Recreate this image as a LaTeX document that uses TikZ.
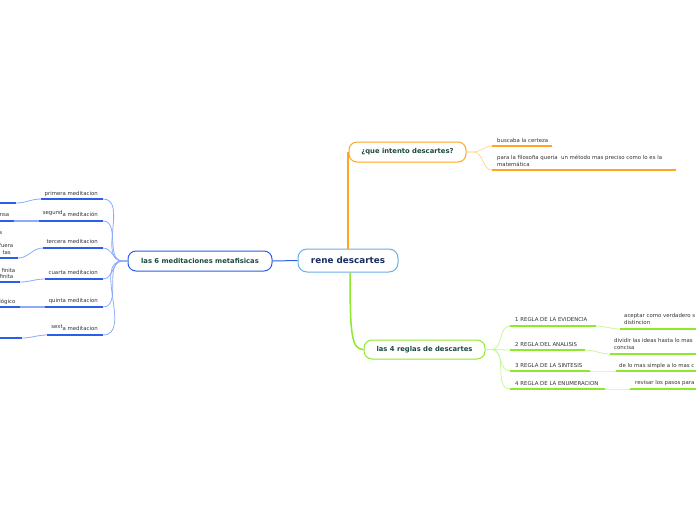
\documentclass[tikz,border=0pt]{standalone}
\usepackage{fontspec}
\setmainfont{DejaVu Sans}
\definecolor{blueM}{HTML}{2C5EE8}
\definecolor{blueL}{HTML}{8EABF8}
\definecolor{orM}{HTML}{FFA51F}
\definecolor{orL}{HTML}{FFD797}
\definecolor{grM}{HTML}{8EE82C}
\definecolor{grL}{HTML}{C9F69C}
\definecolor{ctrB}{HTML}{6CAEE6}
\definecolor{ctrT}{HTML}{1B2D5E}
\definecolor{topT}{HTML}{1D4A40}
\definecolor{txt}{HTML}{333333}
\begin{document}
\begin{tikzpicture}[x=1pt,y=-1pt,
  small/.style={font=\fontsize{5.4}{7}\selectfont, text=txt, inner sep=0pt},
  topic/.style={draw, rounded corners=8pt, fill=white, line width=1pt,
    font=\fontsize{6.8}{8}\bfseries\selectfont, text=topT, inner sep=0pt},
  uB/.style={blueM, line width=1.6pt},
  cB/.style={blueL, line width=0.8pt},
  uO/.style={orM, line width=1.6pt},
  cO/.style={orL, line width=0.8pt},
  uG/.style={grM, line width=1.6pt},
  cG/.style={grL, line width=0.8pt}]
\useasboundingbox (0,0) rectangle (696,520);

% main nodes
\node[topic, draw=ctrB, text=ctrT, font=\fontsize{8.8}{10}\bfseries\selectfont,
  minimum width=100pt, minimum height=23pt, rounded corners=9pt] (c) at (348,260.5) {rene descartes};
\node[topic, draw=orM, minimum width=117pt, minimum height=20pt] (q) at (407.5,152) {¿que intento descartes?};
\node[topic, draw=grM, minimum width=121pt, minimum height=19pt] (r) at (424.5,349.5) {las 4 reglas de descartes};
\node[topic, draw=blueM, minimum width=144pt, minimum height=20pt] (m) at (200,261) {las 6 meditaciones metafisicas};

% main connectors
\draw[orM, line width=1.5pt] (c.north) -- (c.north |- q.west);
\draw[grM, line width=1.5pt] ([xshift=2pt]c.south) .. controls +(0,62) and +(-12,0) .. (r.west);
\draw[blueM, line width=1pt] (m.east) -- (c.west);

% ---- que intento descartes
\coordinate (q1a) at (492,146); \coordinate (q1b) at (552,146);
\coordinate (q2a) at (492,170); \coordinate (q2b) at (676,170);
\draw[cO] (q.east) -- ++(7,0) to[out=0,in=180] (q1a);
\draw[cO] (q.east) -- ++(7,0) to[out=0,in=180] (q2a);
\draw[uO] (q1a) -- (q1b);
\draw[uO] (q2a) -- (q2b);
\node[small, anchor=base west] (q1t) at (497,142) {buscaba la certeza};
\node[small, anchor=north west, align=left] (q2t) at (497,155) {para la filosofia queria\ \ un método mas preciso como lo es la\\matemática};

% ---- 4 reglas
\coordinate (g1a) at (510,326); \coordinate (g1b) at (596,326);
\coordinate (g2a) at (510,350); \coordinate (g2b) at (585,350);
\coordinate (g3a) at (510,371); \coordinate (g3b) at (590,371);
\coordinate (g4a) at (510,389); \coordinate (g4b) at (605,389);
\coordinate (h1a) at (620,329); \coordinate (h1b) at (696,329);
\coordinate (h2a) at (610,354); \coordinate (h2b) at (696,354);
\coordinate (h3a) at (616,371); \coordinate (h3b) at (696,371);
\coordinate (h4a) at (630,389); \coordinate (h4b) at (696,389);
\foreach \i in {1,2,3,4}{
  \draw[cG] (r.east) -- ++(6,0) to[out=0,in=180] (g\i a);
  \draw[uG] (g\i a) -- (g\i b);
  \draw[cG] (g\i b) to[out=0,in=180] (h\i a);
  \draw[uG] (h\i a) -- (h\i b);
}
\node[small, anchor=base west] (g1t) at (515,321) {1 REGLA DE LA EVIDENCIA};
\node[small, anchor=base west] (g2t) at (515,346) {2 REGLA DEL ANALISIS};
\node[small, anchor=base west] (g3t) at (515,367) {3 REGLA DE LA SINTESIS};
\node[small, anchor=base west] (g4t) at (515,385) {4 REGLA DE LA ENUMERACION};
\node[small, anchor=north west, align=left] (h1t) at (624,313) {aceptar como verdadero s\\distincion};
\node[small, anchor=north west, align=left] (h2t) at (614,338) {dividir las ideas hasta lo mas\\concisa};
\node[small, anchor=base west] (h3t) at (619,367) {de lo mas simple a lo mas c};
\node[small, anchor=base west] (h4t) at (635,384.5) {revisar los pasos para};

% ---- 6 meditaciones
\coordinate (p1a) at (41,199);  \coordinate (p1b) at (103,199);
\coordinate (p2a) at (39,221);  \coordinate (p2b) at (103,221);
\coordinate (p3a) at (43,248);  \coordinate (p3b) at (103,248);
\coordinate (p4a) at (45,279);  \coordinate (p4b) at (103,279);
\coordinate (p5a) at (45,307);  \coordinate (p5b) at (103,307);
\coordinate (p6a) at (47,335);  \coordinate (p6b) at (103,335);
\foreach \i in {1,...,6}{
  \draw[cB] (m.west) -- ++(-5,0) to[out=180,in=0] (p\i b);
  \draw[uB] (p\i a) -- (p\i b);
}
\node[small, anchor=base east] (p1t) at (98,195) {primera meditacion};
\node[small, anchor=base east] (p2t) at (98,216.5) {\raisebox{1.6pt}{segund}a meditación};
\node[small, anchor=base east] (p3t) at (98,243.5) {tercera meditacion};
\node[small, anchor=base east] (p4t) at (98,274.5) {cuarta meditacion};
\node[small, anchor=base east] (p5t) at (98,302.5) {quinta meditacion};
\node[small, anchor=base east] (p6t) at (98,330.5) {\raisebox{1.6pt}{sext}a meditacion};

% children of the meditaciones (cut at the left edge)
\coordinate (k1a) at (16,203);  \coordinate (k1b) at (0,203);
\coordinate (k2a) at (14,221);  \coordinate (k2b) at (0,221);
\coordinate (k3a) at (18,258);  \coordinate (k3b) at (0,258);
\coordinate (k4a) at (20,282);  \coordinate (k4b) at (0,282);
\coordinate (k5a) at (20,307);  \coordinate (k5b) at (0,307);
\coordinate (k6a) at (22,338);  \coordinate (k6b) at (0,338);
\draw[cB] (p1a) to[out=180,in=0] (k1a);
\draw[blueL, line width=1.3pt] (p2a) -- (k2a);
\draw[cB] (p3a) to[out=180,in=0] (k3a);
\draw[cB] (p4a) to[out=180,in=0] (k4a);
\draw[blueL, line width=1.1pt] (p5a) -- (k5a);
\draw[cB] (p6a) to[out=180,in=0] (k6a);
\foreach \i in {1,...,6}{ \draw[uB] (k\i a) -- (k\i b); }
\node[small, anchor=base east] (k2t) at (9.5,216) {nsa};
\node[small, anchor=base east] (k3t1) at (2.5,234) {s};
\node[small, anchor=base east] (k3t2) at (13.5,247) {fuera};
\node[small, anchor=base east] (k3t3) at (11,254) {tas};
\node[small, anchor=base east] (k4t1) at (15.5,272) {finita};
\node[small, anchor=base east] (k4t2) at (13.5,278.5) {finita};
\node[small, anchor=base east] (k5t) at (15.5,303) {lógico};
\end{tikzpicture}
\end{document}
